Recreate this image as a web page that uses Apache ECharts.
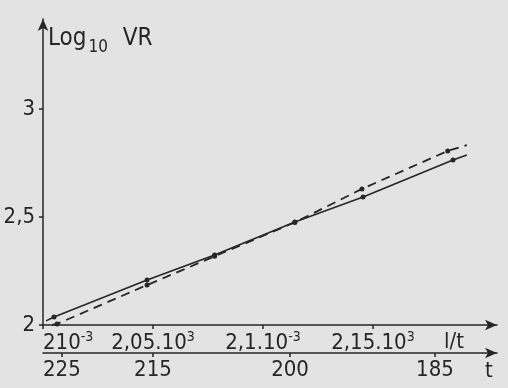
<!DOCTYPE html>
<html>
<head>
<meta charset="utf-8">
<script src="https://cdn.jsdelivr.net/npm/echarts@6/dist/echarts.min.js"></script>
<style>
html,body{margin:0;padding:0;background:#e3e3e3;}
#c{width:508px;height:388px;}
</style>
</head>
<body>
<div id="c"></div>
<script>
// 1/t values in units of 10^-3, log10 VR values
const solidX = [2.0014, 2.005, 2.0473, 2.078, 2.1145, 2.1455, 2.1864, 2.1927];
const solidY = [2.019, 2.037, 2.208, 2.324, 2.477, 2.593, 2.764, 2.787];
const dashX  = [2.0041, 2.0064, 2.0473, 2.078, 2.1145, 2.145, 2.184, 2.1927];
const dashY  = [2.000, 2.005, 2.185, 2.318, 2.475, 2.630, 2.806, 2.833];

const yTicks = [2, 2.5, 3];
const xTicks = [2.0, 2.05, 2.1, 2.15];
const xTickLabels = ['{n|210}{s|-3}', '{n|2,05.10}{s|3}', '{n|2,1.10}{s|-3}', '{n|2,15.10}{s|3}'];
const tTickPos = [2.0086, 2.05, 2.1123, 2.1782];
const tTickLabels = ['225', '215', '200', '185'];

const FONT = '"DejaVu Sans Condensed", "DejaVu Sans", sans-serif';
const INK = '#262626';

function nearestIdx(arr, v){
  let best = 0;
  for (let i = 1; i < arr.length; i++) if (Math.abs(arr[i]-v) < Math.abs(arr[best]-v)) best = i;
  return best;
}
function pairs(xs, ys){ return xs.map((x,i)=>[x, ys[i]]); }
function markSize(v, p){ return (p.dataIndex === 0 || p.dataIndex === solidX.length-1) ? 0 : 5; }

const chart = echarts.init(document.getElementById('c'), null, {renderer:'canvas'});
chart.setOption({
  backgroundColor: '#e3e3e3',
  animation: false,
  grid: {left: 43, right: 11, top: 19, bottom: 63},
  xAxis: [{
    type: 'value', min: 2.0, max: 2.2064, position: 'bottom',
    axisLine: {show: true, symbol: ['none','arrow'], symbolSize: [8,12], lineStyle: {color: INK, width: 1.5}},
    axisTick: {show: true, customValues: xTicks, length: 4, lineStyle: {color: INK, width: 1.5}},
    axisLabel: {
      customValues: xTicks, margin: 5, alignMinLabel: 'left',
      formatter: v => xTickLabels[nearestIdx(xTicks, v)],
      rich: {
        n: {fontFamily: FONT, fontSize: 22, color: INK, verticalAlign: 'bottom', lineHeight: 24},
        s: {fontFamily: FONT, fontSize: 14, color: INK, verticalAlign: 'bottom', lineHeight: 24, padding: [0,0,10,0]}
      }
    },
    splitLine: {show: false}
  }, {
    type: 'value', min: 2.0, max: 2.2064, position: 'bottom', offset: 28,
    axisLine: {show: true, symbol: ['none','arrow'], symbolSize: [8,12], lineStyle: {color: INK, width: 1.5}},
    axisTick: {show: true, customValues: tTickPos, length: 4, lineStyle: {color: INK, width: 1.5}},
    axisLabel: {
      customValues: tTickPos, margin: 6,
      formatter: v => tTickLabels[nearestIdx(tTickPos, v)],
      fontFamily: FONT, fontSize: 22, color: INK
    },
    splitLine: {show: false}
  }],
  yAxis: {
    type: 'value', min: 2, max: 3.4167,
    axisLine: {show: true, symbol: ['none','arrow'], symbolSize: [8,12], lineStyle: {color: INK, width: 1.5}},
    axisTick: {show: true, customValues: yTicks, length: 4, lineStyle: {color: INK, width: 1.5}},
    axisLabel: {
      customValues: yTicks, margin: 8,
      formatter: v => String(v).replace('.', ','),
      fontFamily: FONT, fontSize: 22, color: INK
    },
    splitLine: {show: false}
  },
  series: [{
    type: 'line', data: pairs(solidX, solidY), xAxisIndex: 0,
    symbol: 'circle', symbolSize: markSize, showAllSymbol: true,
    lineStyle: {color: INK, width: 1.6}, itemStyle: {color: INK}
  }, {
    type: 'line', data: pairs(dashX, dashY), xAxisIndex: 0,
    symbol: 'circle', symbolSize: markSize, showAllSymbol: true,
    lineStyle: {color: INK, width: 1.8, type: [9,6]}, itemStyle: {color: INK}
  }],
  graphic: [{
    type: 'text', left: 48, top: 27,
    style: {
      text: '{a|Log}{b|10}{a|  VR}',
      rich: {
        a: {fontFamily: FONT, fontSize: 24, fill: INK, verticalAlign: 'top', lineHeight: 28},
        b: {fontFamily: FONT, fontSize: 17, fill: INK, verticalAlign: 'top', lineHeight: 28, padding: [12,1,0,2]}
      }
    }
  }, {
    type: 'text', left: 444, top: 331,
    style: {text: 'l/t', fontFamily: FONT, fontSize: 22, fill: INK}
  }, {
    type: 'text', left: 485, top: 360,
    style: {text: 't', fontFamily: FONT, fontSize: 22, fill: INK}
  }]
});
</script>
</body>
</html>
